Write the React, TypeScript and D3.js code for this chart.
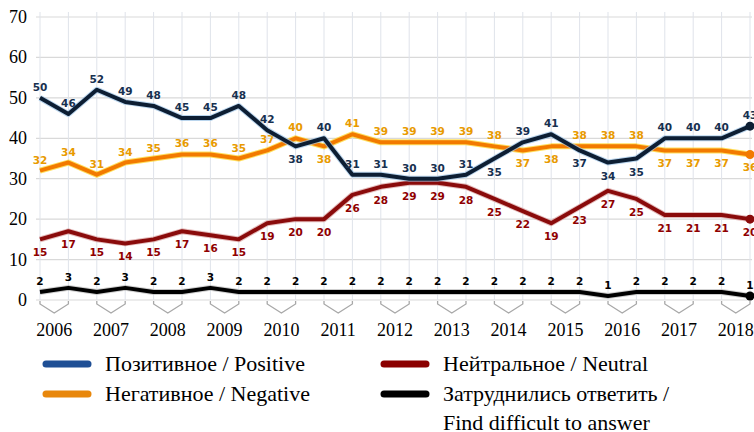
import React, { useRef, useEffect } from "react";
import * as d3 from "d3";

// two survey waves per year
const waves = [
  "2006-1", "2006-2", "2007-1", "2007-2", "2008-1", "2008-2", "2009-1", "2009-2",
  "2010-1", "2010-2", "2011-1", "2011-2", "2012-1", "2012-2", "2013-1", "2013-2",
  "2014-1", "2014-2", "2015-1", "2015-2", "2016-1", "2016-2", "2017-1", "2017-2",
  "2018-1", "2018-2",
];
const years = ["2006", "2007", "2008", "2009", "2010", "2011", "2012", "2013", "2014", "2015", "2016", "2017", "2018"];
const yTicks = [0, 10, 20, 30, 40, 50, 60, 70];

const positive = [50, 46, 52, 49, 48, 45, 45, 48, 42, 38, 40, 31, 31, 30, 30, 31, 35, 39, 41, 37, 34, 35, 40, 40, 40, 43];
const negative = [32, 34, 31, 34, 35, 36, 36, 35, 37, 40, 38, 41, 39, 39, 39, 39, 38, 37, 38, 38, 38, 38, 37, 37, 37, 36];
const neutral = [15, 17, 15, 14, 15, 17, 16, 15, 19, 20, 20, 26, 28, 29, 29, 28, 25, 22, 19, 23, 27, 25, 21, 21, 21, 20];
const hard = [2, 3, 2, 3, 2, 2, 3, 2, 2, 2, 2, 2, 2, 2, 2, 2, 2, 2, 2, 2, 1, 2, 2, 2, 2, 1];

// label placement: 1 = above the point, 0 = below
const positiveAbove = [1, 1, 1, 1, 1, 1, 1, 1, 1, 0, 1, 1, 1, 1, 1, 1, 0, 1, 1, 0, 0, 0, 1, 1, 1, 1];
const negativeAbove = [1, 1, 1, 1, 1, 1, 1, 1, 1, 1, 0, 1, 1, 1, 1, 1, 1, 0, 0, 1, 1, 1, 0, 0, 0, 0];

export default function App() {
  const ref = useRef<SVGSVGElement>(null);

  useEffect(() => {
    const width = 754;
    const height = 432;
    const svg = d3.select(ref.current);
    svg.selectAll("*").remove();
    svg.attr("width", width).attr("height", height);

    const x = d3.scalePoint<string>().domain(waves).range([40, 750]);
    const y = d3.scaleLinear().domain([0, 70]).range([300, 17]);
    const serif = "Liberation Serif, Times New Roman, DejaVu Serif, serif";

    // grid
    const grid = svg.append("g");
    grid.selectAll("line.h")
      .data(yTicks)
      .join("line")
      .attr("x1", 36).attr("x2", 752)
      .attr("y1", d => y(d)).attr("y2", d => y(d))
      .attr("stroke", "#d9d9d9").attr("stroke-width", 1.2);
    grid.selectAll("line.v")
      .data(waves)
      .join("line")
      .attr("x1", d => x(d)!).attr("x2", d => x(d)!)
      .attr("y1", 12).attr("y2", 300)
      .attr("stroke", "#dfe3ea").attr("stroke-width", 1);

    // y labels
    svg.append("g")
      .selectAll("text")
      .data(yTicks)
      .join("text")
      .attr("x", 27)
      .attr("y", d => y(d) + 6)
      .attr("text-anchor", "end")
      .style("font-family", serif)
      .attr("font-size", 18)
      .text(d => d);

    // year brackets and labels
    const yr = svg.append("g");
    years.forEach((yy, k) => {
      const x0 = x(waves[2 * k])!;
      const x1 = x(waves[2 * k + 1])!;
      const cx = (x0 + x1) / 2;
      yr.append("path")
        .attr("d", `M${x0},301 L${x0},304 L${cx},313 L${x1},304 L${x1},301`)
        .attr("fill", "none")
        .attr("stroke", "#a8a8a8")
        .attr("stroke-width", 1.3);
      yr.append("text")
        .attr("x", cx)
        .attr("y", 336)
        .attr("text-anchor", "middle")
        .style("font-family", serif)
        .attr("font-size", 18)
        .text(yy);
    });

    const line = d3.line<number>()
      .x((_, i) => x(waves[i])!)
      .y(d => y(d));

    const series = [
      { values: hard, color: "#000000", glow: "#bbbbbb", label: "#000000", above: hard.map(() => 1) },
      { values: neutral, color: "#8a0b0b", glow: "#d9a0a0", label: "#8f0000", above: neutral.map(() => 0) },
      { values: negative, color: "#f27a00", glow: "#ffd21a", label: "#e89a00", above: negativeAbove },
      { values: positive, color: "#0d1e33", glow: "#9cc3e6", label: "#17304f", above: positiveAbove },
    ];

    series.forEach(s => {
      const g = svg.append("g");
      g.append("path")
        .attr("d", line(s.values)!)
        .attr("fill", "none")
        .attr("stroke", s.glow)
        .attr("stroke-width", 6)
        .attr("stroke-opacity", 0.7)
        .attr("stroke-linejoin", "round");
      g.append("path")
        .attr("d", line(s.values)!)
        .attr("fill", "none")
        .attr("stroke", s.color)
        .attr("stroke-width", 4)
        .attr("stroke-linejoin", "round");
      const last = s.values.length - 1;
      g.append("circle")
        .attr("cx", x(waves[last])!)
        .attr("cy", y(s.values[last]))
        .attr("r", 4.5)
        .attr("fill", s.color);
      g.selectAll("text")
        .data(s.values)
        .join("text")
        .attr("x", (_, i) => x(waves[i])!)
        .attr("y", (d, i) => (s.above[i] ? y(d) - 7 : y(d) + 17))
        .attr("text-anchor", "middle")
        .style("font-family", "DejaVu Sans, Verdana, sans-serif")
        .attr("font-weight", "bold")
        .attr("font-size", 10.5)
        .attr("fill", s.label)
        .text(d => d);
    });

    // legend
    const legend = [
      { x: 46, y: 364, color: "#1f4f95", lines: ["Позитивное / Positive"] },
      { x: 46, y: 394, color: "#e8870c", lines: ["Негативное / Negative"] },
      { x: 384, y: 364, color: "#8b0000", lines: ["Нейтральное / Neutral"] },
      { x: 384, y: 394, color: "#000000", lines: ["Затруднились ответить /", "Find difficult to answer"] },
    ];
    const lg = svg.append("g");
    legend.forEach(l => {
      lg.append("line")
        .attr("x1", l.x).attr("x2", l.x + 42)
        .attr("y1", l.y).attr("y2", l.y)
        .attr("stroke", l.color)
        .attr("stroke-width", 7)
        .attr("stroke-linecap", "round");
      l.lines.forEach((t, j) => {
        lg.append("text")
          .attr("x", l.x + 59)
          .attr("y", l.y + 7 + j * 29)
          .style("font-family", serif)
          .attr("font-size", 22)
          .text(t);
      });
    });
  }, []);

  return (
    <div style={{ position: "absolute", left: 0, top: 0 }}>
      <svg ref={ref}></svg>
    </div>
  );
}
